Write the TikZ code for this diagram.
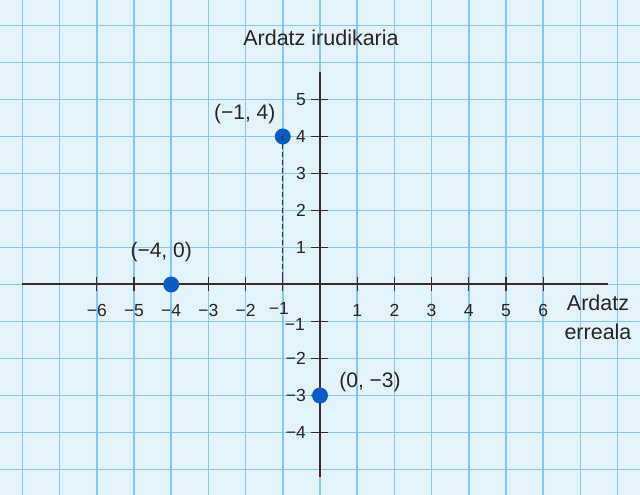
\documentclass[tikz,border=0pt]{standalone}
\usepackage{fontspec}
\setmainfont{Liberation Sans}
\definecolor{bgblue}{HTML}{E2F3FC}
\definecolor{gridblue}{HTML}{86C6EF}
\definecolor{axisdark}{HTML}{3A2C24}
\definecolor{txtdark}{HTML}{2A2320}
\definecolor{ptblue}{HTML}{0A5CC4}
\tikzset{
  gridline/.style={draw=gridblue, line width=1.5pt},
  axisline/.style={draw=axisdark, line width=2pt},
  tickline/.style={draw=axisdark, line width=1.3pt},
  ticklbl/.style={font=\fontsize{17.5}{20}\selectfont, text=txtdark, inner sep=0pt},
  ptlbl/.style={font=\fontsize{21}{24}\selectfont, text=txtdark, inner sep=0pt},
  axlbl/.style={font=\fontsize{21.5}{29}\selectfont, text=txtdark, inner sep=0pt, align=center},
  pt/.style={circle, fill=ptblue, minimum size=16pt, inner sep=0pt},
  guide/.style={draw=axisdark, line width=1.2pt, dash pattern=on 5pt off 3pt}
}
\begin{document}
\begin{tikzpicture}[x=37.2pt, y=37pt]
\useasboundingbox (-8.6022,-5.6892) rectangle (8.6022,7.6892);
\fill[bgblue] (-8.6022,-5.6892) rectangle (8.6022,7.6892);
% grid
\foreach \k in {-8,...,8} \draw[gridline] (\k,-5.6892) -- (\k,7.6892);
\foreach \k in {-5,...,7} \draw[gridline] (-8.6022,\k) -- (8.6022,\k);
% axes
\coordinate (xl) at (-8.01,0);
\coordinate (xr) at (7.74,0);
\coordinate (yt) at (0,5.74);
\coordinate (yb) at (0,-5.20);
\draw[axisline] (xl) -- (xr);
\draw[axisline] (yb) -- (yt);
% x ticks
\foreach \k in {-6,...,-2,1,2,...,6} {
  \draw[tickline] (\k,-7pt) -- (\k,7pt);
  \node[ticklbl] at ([yshift=-26pt]\k,0) {\ifnum\k<0 −\the\numexpr-\k\relax\else\k\fi};
}
\draw[tickline] (-1,-7pt) -- (-1,7pt);
\node[ticklbl] (xm1) at ([xshift=-4pt,yshift=-24pt]-1,0) {−1};
% y ticks
\foreach \k in {-4,...,-2,1,2,...,5} {
  \draw[tickline] (-9pt,\k) -- (8pt,\k);
  \node[ticklbl, anchor=east] at ([xshift=-14pt]0,\k) {\ifnum\k<0 −\the\numexpr-\k\relax\else\k\fi};
}
\draw[tickline] (-9pt,-1) -- (8pt,-1);
\node[ticklbl, anchor=east] (ym1) at ([xshift=-15pt,yshift=-3pt]0,-1) {−1};
% guide
\coordinate (g0) at (-1,0);
\node[pt] (p1) at (-1,4) {};
\draw[guide] (p1.center) -- (g0);
\node[pt] (p2) at (-4,0) {};
\node[pt] (p3) at (0,-3) {};
% labels
\node[ptlbl] (l1) at ([xshift=-38pt,yshift=22pt]p1.center) {(−1, 4)};
\node[ptlbl] (l2) at ([xshift=-10pt,yshift=32pt]p2.center) {(−4, 0)};
\node[ptlbl] (l3) at ([xshift=50pt,yshift=13pt]p3.center) {(0, −3)};
\node[axlbl] (ty) at ([xshift=1pt,yshift=247pt]0,0) {Ardatz irudikaria};
\node[axlbl] (tx) at ([xshift=278pt,yshift=-33pt]0,0) {Ardatz\\erreala};
\end{tikzpicture}
\end{document}
